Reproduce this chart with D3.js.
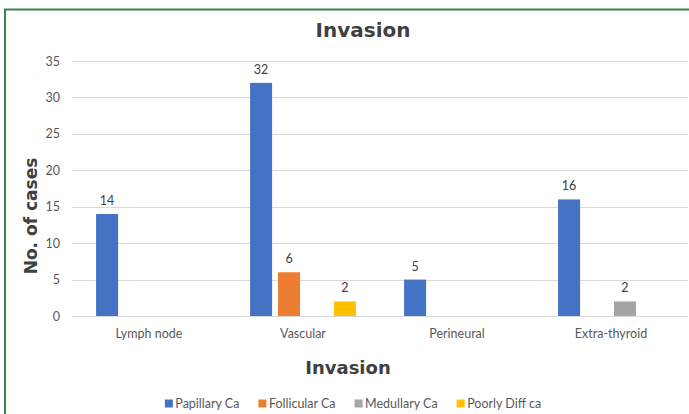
<!DOCTYPE html>
<html>
<head>
<meta charset="utf-8">
<script src="https://cdn.jsdelivr.net/npm/d3@7/dist/d3.min.js"></script>
<style>
  html, body { margin: 0; padding: 0; background: #fff; }
  svg { display: block; }
</style>
</head>
<body>
<svg id="chart" width="689" height="414"></svg>
<script>
// Invasion type by carcinoma subtype
const categories = ["Lymph node", "Vascular", "Perineural", "Extra-thyroid"];
const seriesNames = ["Papillary Ca", "Follicular Ca", "Medullary Ca", "Poorly Diff ca"];
const papillary = [14, 32, 5, 16];
const follicular = [0, 6, 0, 0];
const medullary = [0, 0, 0, 2];
const poorlyDiff = [0, 2, 0, 0];
const yTicks = [0, 5, 10, 15, 20, 25, 30, 35];
const colors = ["#4472C4", "#ED7D31", "#A5A5A5", "#FFC000"];

const seriesValues = [papillary, follicular, medullary, poorlyDiff];

const svg = d3.select("#chart");
const W = 689, H = 414;
const plot = { left: 72, right: 688, top: 61, bottom: 316 };
const bodyFont = "Lato, 'Open Sans', sans-serif";
const boldFont = "'DejaVu Sans', sans-serif";

// outer frame
svg.append("rect")
  .attr("x", 5).attr("y", 9.5)
  .attr("width", W + 10).attr("height", H + 10)
  .attr("fill", "none")
  .attr("stroke", "#36844a")
  .attr("stroke-width", 2);

const y = d3.scaleLinear().domain([0, 35]).range([plot.bottom, plot.top]);
const x0 = d3.scaleBand().domain(categories).range([plot.left, plot.right]);

// bar width w, in-group gap 0.27w, gap between groups 2.19w
const w = x0.bandwidth() / 7;
const x1 = d3.scaleBand()
  .domain(seriesNames)
  .range([1.095 * w, x0.bandwidth() - 1.095 * w])
  .paddingInner(0.27 / 1.27)
  .paddingOuter(0);

// gridlines
svg.append("g")
  .selectAll("line")
  .data(yTicks)
  .join("line")
  .attr("x1", plot.left).attr("x2", plot.right)
  .attr("y1", d => Math.round(y(d)) + 0.5)
  .attr("y2", d => Math.round(y(d)) + 0.5)
  .attr("stroke", "#d9d9d9")
  .attr("stroke-width", 1);

// y-axis tick labels
const yAxis = d3.axisLeft(y).tickValues(yTicks).tickSize(0).tickPadding(0);
const yg = svg.append("g").attr("transform", `translate(60,0)`).call(yAxis);
yg.select(".domain").remove();
yg.selectAll("text")
  .attr("fill", "#595959")
  .style("font-family", bodyFont)
  .style("font-size", "12.5px");

// x-axis category labels
const xAxis = d3.axisBottom(x0).tickSize(0).tickPadding(0);
const xg = svg.append("g").attr("transform", `translate(0,329)`).call(xAxis);
xg.select(".domain").remove();
xg.selectAll("text")
  .attr("fill", "#595959")
  .style("font-family", bodyFont)
  .style("font-size", "12.5px");

// bars and value labels
const rows = [];
seriesNames.forEach((s, si) => {
  categories.forEach((c, ci) => {
    const v = seriesValues[si][ci];
    if (v > 0) rows.push({ s, si, c, v });
  });
});

svg.append("g")
  .selectAll("rect")
  .data(rows)
  .join("rect")
  .attr("x", d => x0(d.c) + x1(d.s))
  .attr("y", d => y(d.v))
  .attr("width", x1.bandwidth())
  .attr("height", d => y(0) - y(d.v))
  .attr("fill", d => colors[d.si]);

svg.append("g")
  .selectAll("text")
  .data(rows)
  .join("text")
  .attr("x", d => x0(d.c) + x1(d.s) + x1.bandwidth() / 2)
  .attr("y", d => y(d.v) - 9)
  .attr("text-anchor", "middle")
  .attr("fill", "#404040")
  .style("font-family", bodyFont)
  .style("font-size", "12.5px")
  .text(d => d.v);

// chart title
svg.append("text")
  .attr("x", 363).attr("y", 37)
  .attr("text-anchor", "middle")
  .attr("fill", "#404040")
  .style("font-family", boldFont)
  .style("font-weight", "bold")
  .style("font-size", "20px")
  .text("Invasion");

// axis titles
svg.append("text")
  .attr("transform", "translate(37,216) rotate(-90)")
  .attr("text-anchor", "middle")
  .attr("fill", "#404040")
  .style("font-family", boldFont)
  .style("font-weight", "bold")
  .style("font-size", "17px")
  .text("No. of cases");

svg.append("text")
  .attr("x", 348).attr("y", 374)
  .attr("text-anchor", "middle")
  .attr("fill", "#404040")
  .style("font-family", boldFont)
  .style("font-weight", "bold")
  .style("font-size", "18px")
  .text("Invasion");

// legend
const legend = svg.append("g");
let lx = 0;
seriesNames.forEach((s, i) => {
  const item = legend.append("g").attr("transform", `translate(${lx},0)`);
  item.append("rect")
    .attr("x", 0).attr("y", -8.5)
    .attr("width", 8).attr("height", 8)
    .attr("fill", colors[i]);
  const t = item.append("text")
    .attr("x", 10.5).attr("y", 0)
    .attr("fill", "#595959")
    .style("font-family", bodyFont)
    .style("font-size", "12.5px")
    .text(s);
  lx += 10.5 + t.node().getComputedTextLength() + 19;
});
const legendWidth = lx - 19;
legend.attr("transform", `translate(${353 - legendWidth / 2},408)`);
</script>
</body>
</html>
